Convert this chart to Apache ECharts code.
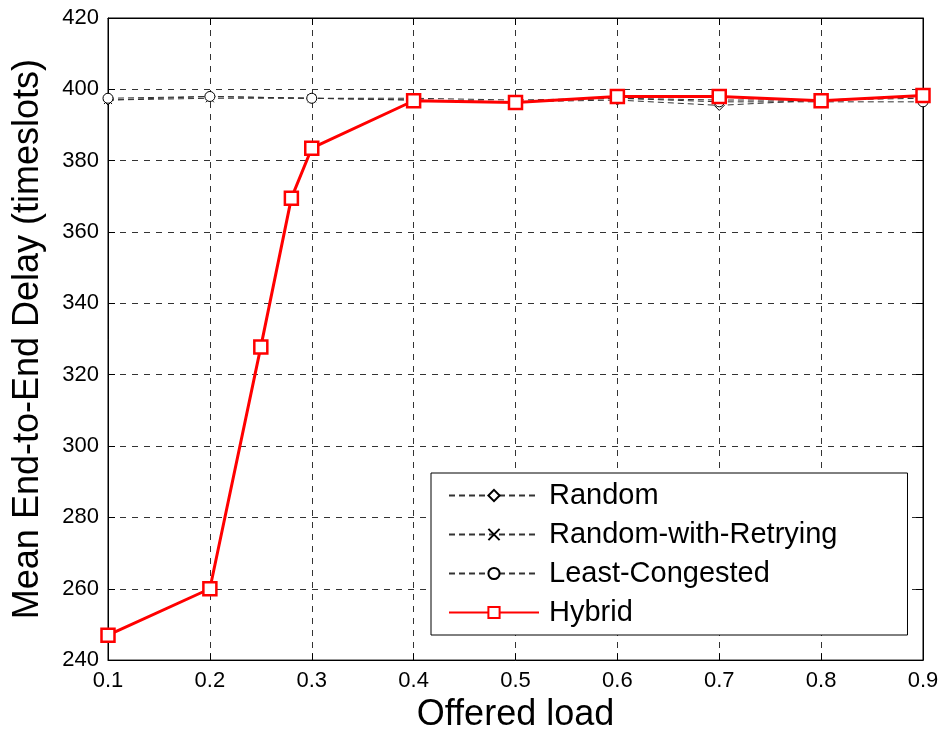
<!DOCTYPE html>
<html>
<head>
<meta charset="utf-8">
<script src="https://cdn.jsdelivr.net/npm/echarts@6/dist/echarts.min.js"></script>
<style>
  html, body { margin: 0; padding: 0; background: #fff; }
  #chart { width: 943px; height: 738px; }
</style>
</head>
<body>
<div id="chart"></div>
<script>
// offered load values
const loads = [0.1, 0.2, 0.3, 0.4, 0.5, 0.6, 0.7, 0.8, 0.9];
const hybridLoads = [0.1, 0.2, 0.25, 0.28, 0.3, 0.4, 0.5, 0.6, 0.7, 0.8, 0.9];

// mean end-to-end delay (timeslots)
const randomDelay = [397, 398, 397.5, 397, 396.5, 397, 395.5, 397, 397.5];
const retryDelay = [397, 397.5, 397.5, 397.5, 397, 397.5, 397, 397, 398];
const congestedDelay = [397.5, 398, 397.5, 397, 396.5, 397.5, 396.5, 396.5, 396.5];
const hybridDelay = [247, 260, 327.8, 369.5, 383.5, 396.8, 396.3, 398, 398, 396.8, 398.3];

const seriesNames = ["Random", "Random-with-Retrying", "Least-Congested", "Hybrid"];

const font = "'Liberation Sans', Arial, sans-serif";
const pair = (xs, ys) => xs.map((x, i) => [x, ys[i]]);

const chart = echarts.init(document.getElementById("chart"));

const dashed = { color: "#333", width: 1, type: [6, 4] };
const gridLine = { show: true, lineStyle: { color: "#333", width: 1, type: [6, 6] } };
const tick = { show: true, inside: true, length: 7, lineStyle: { color: "#000" } };

function blackSeries(name, data, symbol, size) {
  return {
    name,
    type: "line",
    data,
    symbol,
    symbolSize: size,
    lineStyle: dashed,
    itemStyle: { color: "#fff", borderColor: "#000", borderWidth: 1 },
    z: 2,
  };
}

chart.setOption({
  animation: false,
  grid: {
    left: 108, right: 20, top: 18, bottom: 77,
    show: true, borderColor: "#000", borderWidth: 1,
  },
  xAxis: [
    {
      type: "value",
      min: 0.1, max: 0.9, interval: 0.1,
      name: "Offered load",
      nameLocation: "middle",
      nameGap: 36,
      nameTextStyle: { fontFamily: font, fontSize: 36, color: "#000" },
      axisLine: { show: true, lineStyle: { color: "#000" } },
      axisTick: tick,
      axisLabel: {
        fontFamily: font, fontSize: 22, color: "#000", margin: 10,
        formatter: (v) => v.toFixed(1),
      },
      splitLine: gridLine,
    },
    {
      type: "value", position: "top",
      min: 0.1, max: 0.9, interval: 0.1,
      axisLine: { show: true, lineStyle: { color: "#000" } },
      axisTick: tick, axisLabel: { show: false }, splitLine: { show: false },
    },
  ],
  yAxis: [
    {
      type: "value",
      min: 240, max: 420, interval: 20,
      name: "Mean End-to-End Delay (timeslots)",
      nameLocation: "middle",
      nameGap: 62,
      nameTextStyle: { fontFamily: font, fontSize: 36, color: "#000" },
      axisLine: { show: true, lineStyle: { color: "#000" } },
      axisTick: tick,
      axisLabel: { fontFamily: font, fontSize: 22, color: "#000", margin: 9 },
      splitLine: gridLine,
    },
    {
      type: "value", position: "right",
      min: 240, max: 420, interval: 20,
      axisLine: { show: true, lineStyle: { color: "#000" } },
      axisTick: tick, axisLabel: { show: false }, splitLine: { show: false },
    },
  ],
  legend: {
    orient: "vertical",
    left: 431, top: 473,
    padding: [8, 70, 8, 17],
    itemWidth: 90,
    itemHeight: 14,
    itemGap: 10,
    backgroundColor: "#fff",
    borderColor: "#000",
    borderWidth: 1,
    data: seriesNames,
    textStyle: { fontFamily: font, fontSize: 29, color: "#000", padding: [0, 0, 0, 5] },
  },
  series: [
    blackSeries(seriesNames[0], pair(loads, randomDelay), "diamond", 10),
    blackSeries(seriesNames[1], pair(loads, retryDelay), "path://M0,0L10,10M0,10L10,0", 8),
    blackSeries(seriesNames[2], pair(loads, congestedDelay), "circle", 10),
    {
      name: seriesNames[3],
      type: "line",
      data: pair(hybridLoads, hybridDelay),
      symbol: "rect",
      symbolSize: 13,
      lineStyle: { color: "#ff0000", width: 3 },
      itemStyle: { color: "#fff", borderColor: "#ff0000", borderWidth: 2.5 },
      z: 5,
    },
  ],
});
</script>
</body>
</html>
